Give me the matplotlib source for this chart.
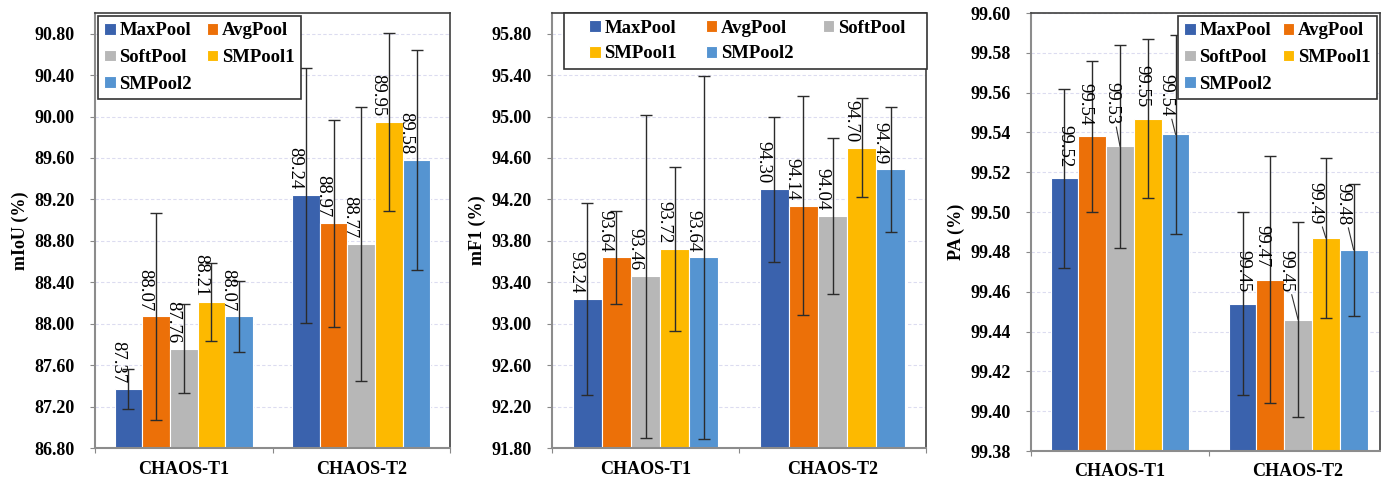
import matplotlib
matplotlib.use('Agg')
import matplotlib.pyplot as plt
from matplotlib.patches import Rectangle
import numpy as np

plt.rcParams['font.family'] = ['Liberation Serif', 'DejaVu Serif']

methods = ['MaxPool', 'AvgPool', 'SoftPool', 'SMPool1', 'SMPool2']
datasets = ['CHAOS-T1', 'CHAOS-T2']
colors = ['#3a62ad', '#ec7008', '#b7b7b7', '#fdb900', '#5594d1']

# mIoU (%) : rows = method, cols = dataset
miou = [[87.37, 89.24], [88.07, 88.97], [87.76, 88.77], [88.21, 89.95], [88.07, 89.58]]
miou_err = [[0.19, 1.23], [1.00, 1.00], [0.43, 1.32], [0.38, 0.86], [0.34, 1.06]]

# mF1 (%)
mf1 = [[93.24, 94.30], [93.64, 94.14], [93.46, 94.04], [93.72, 94.70], [93.64, 94.49]]
mf1_err = [[0.93, 0.70], [0.45, 1.06], [1.56, 0.75], [0.79, 0.48], [1.75, 0.60]]

# PA (%)
pa = [[99.517, 99.454], [99.538, 99.466], [99.533, 99.446], [99.547, 99.487], [99.539, 99.481]]
pa_err = [[0.045, 0.046], [0.038, 0.062], [0.051, 0.049], [0.040, 0.040], [0.050, 0.033]]

fig = plt.figure(figsize=(13.81, 4.8), dpi=100)
W, H = 1381, 480


def panel(rect, vals, errs, ylabel, ylim, yticks, xlim, leg_loc, leg_ncol, leg_order,
          label_off, leg_box=None, colspace=0.8):
    ax = fig.add_axes([rect[0] / W, 1 - rect[3] / H, (rect[2] - rect[0]) / W,
                       (rect[3] - rect[1]) / H])
    x = np.arange(len(datasets))
    bw = 0.156
    handles = []
    for i, m in enumerate(methods):
        pos = x + (i - 2) * bw
        b = ax.bar(pos, vals[i], bw, bottom=0, color=colors[i], edgecolor='white',
                   linewidth=0.8, label=m, zorder=2)
        ax.errorbar(pos, vals[i], yerr=errs[i], fmt='none', ecolor='#2b2b2b',
                    elinewidth=1.0, capsize=4, capthick=1.0, zorder=3)
        handles.append(b)
        for j in range(len(datasets)):
            dx, dy, lead = label_off(i, j)
            txt = '{:.2f}'.format(vals[i][j])
            ax.annotate(txt, xy=(pos[j], vals[i][j]), xytext=(dx, dy),
                        textcoords='offset points', rotation=-90, ha='center',
                        va='bottom', fontsize=13.5, color='black', zorder=4,
                        arrowprops=dict(arrowstyle='-', color='#333333', lw=0.8,
                                        shrinkA=0, shrinkB=0) if lead else None)
    ax.set_ylim(*ylim)
    ax.set_yticks(yticks)
    ax.set_yticklabels(['%.2f' % t for t in yticks], fontsize=13, fontweight='bold')
    ax.set_xlim(*xlim)
    ax.set_xticks([t for t in [-0.5, 0.5, 1.5] if t <= xlim[1]])
    ax.set_xticklabels([])
    ax.set_xticks(x, minor=True)
    ax.set_xticklabels(datasets, minor=True, fontsize=13, fontweight='bold')
    ax.tick_params(axis='x', which='minor', length=0, pad=9)
    ax.tick_params(axis='x', which='major', length=3.6, color='#888888', direction='out')
    ax.tick_params(axis='y', length=3.6, color='#888888', direction='out', pad=11)
    ax.set_ylabel(ylabel, fontsize=13, fontweight='bold', labelpad=4)
    ax.grid(axis='y', color='#dcdcf0', linestyle=(0, (3, 2)), linewidth=0.8, zorder=0)
    ax.set_axisbelow(True)
    for s in ['left', 'bottom']:
        ax.spines[s].set_color('#8c8c8c')
        ax.spines[s].set_linewidth(1.5)
    for s in ['top', 'right']:
        ax.spines[s].set_color('#404040')
        ax.spines[s].set_linewidth(1.2)
    hs = [handles[k] for k in leg_order]
    ls = [methods[k] for k in leg_order]
    kw = dict(ncol=leg_ncol, fancybox=False, framealpha=1, edgecolor='#333333',
              prop={'size': 13.5, 'weight': 'bold'}, handlelength=0.6, handleheight=0.6,
              handletextpad=0.2, columnspacing=colspace, borderaxespad=0.15,
              labelspacing=0.52, borderpad=0.35)
    if leg_box is None:
        leg = ax.legend(hs, ls, loc=leg_loc, **kw)
        leg.get_frame().set_linewidth(1.2)
    else:
        # frame drawn separately so the content can sit with a wider side margin
        bx0, by0, bx1, by1 = leg_box
        fx0 = (bx0 - rect[0]) / (rect[2] - rect[0])
        fx1 = (bx1 - rect[0]) / (rect[2] - rect[0])
        fy0 = (rect[3] - by1) / (rect[3] - rect[1])
        fy1 = (rect[3] - by0) / (rect[3] - rect[1])
        ax.add_patch(Rectangle((fx0, fy0), fx1 - fx0, fy1 - fy0, transform=ax.transAxes,
                               facecolor='white', edgecolor='#333333', lw=1.2,
                               zorder=5, clip_on=False))
        kw['columnspacing'] = 1.55
        kw['labelspacing'] = 0.45
        leg = ax.legend(hs, ls, loc='center', frameon=False,
                        bbox_to_anchor=((fx0 + fx1) / 2 + 0.005, (fy0 + fy1) / 2),
                        **kw)
    leg.set_zorder(6)
    return ax


panel((95, 13, 450, 448), miou, miou_err, 'mIoU (%)', (86.8, 91.0),
      np.arange(86.8, 90.81, 0.4), (-0.5, 1.5), 'upper left', 2, [0, 2, 4, 1, 3],
      lambda i, j: (-8, 4, False))

panel((552, 13, 926, 448), mf1, mf1_err, 'mF1 (%)', (91.8, 96.0),
      np.arange(91.8, 95.81, 0.4), (-0.5, 1.5), 'upper right', 3, [0, 3, 1, 4, 2],
      lambda i, j: (-8, 4, False), leg_box=(564, 13, 927, 69))

pa_off = {(0, 0): (0, 8, False), (1, 0): (-5, 8, False), (2, 0): (-6, 16, True),
          (3, 0): (-4, 8, False), (4, 0): (-7, 13, True),
          (0, 1): (0, 8, False), (1, 1): (-6, 9, False), (2, 1): (-9, 20, True),
          (3, 1): (-8, 10, True), (4, 1): (-8, 18, True)}

panel((1031, 13, 1380, 451), pa, pa_err, 'PA (%)', (99.38, 99.60),
      np.arange(99.38, 99.601, 0.02), (-0.5, 1.46), 'upper right', 2, [0, 2, 4, 1, 3],
      lambda i, j: pa_off[(i, j)], colspace=0.6)

fig.savefig('out.png', dpi=100)
